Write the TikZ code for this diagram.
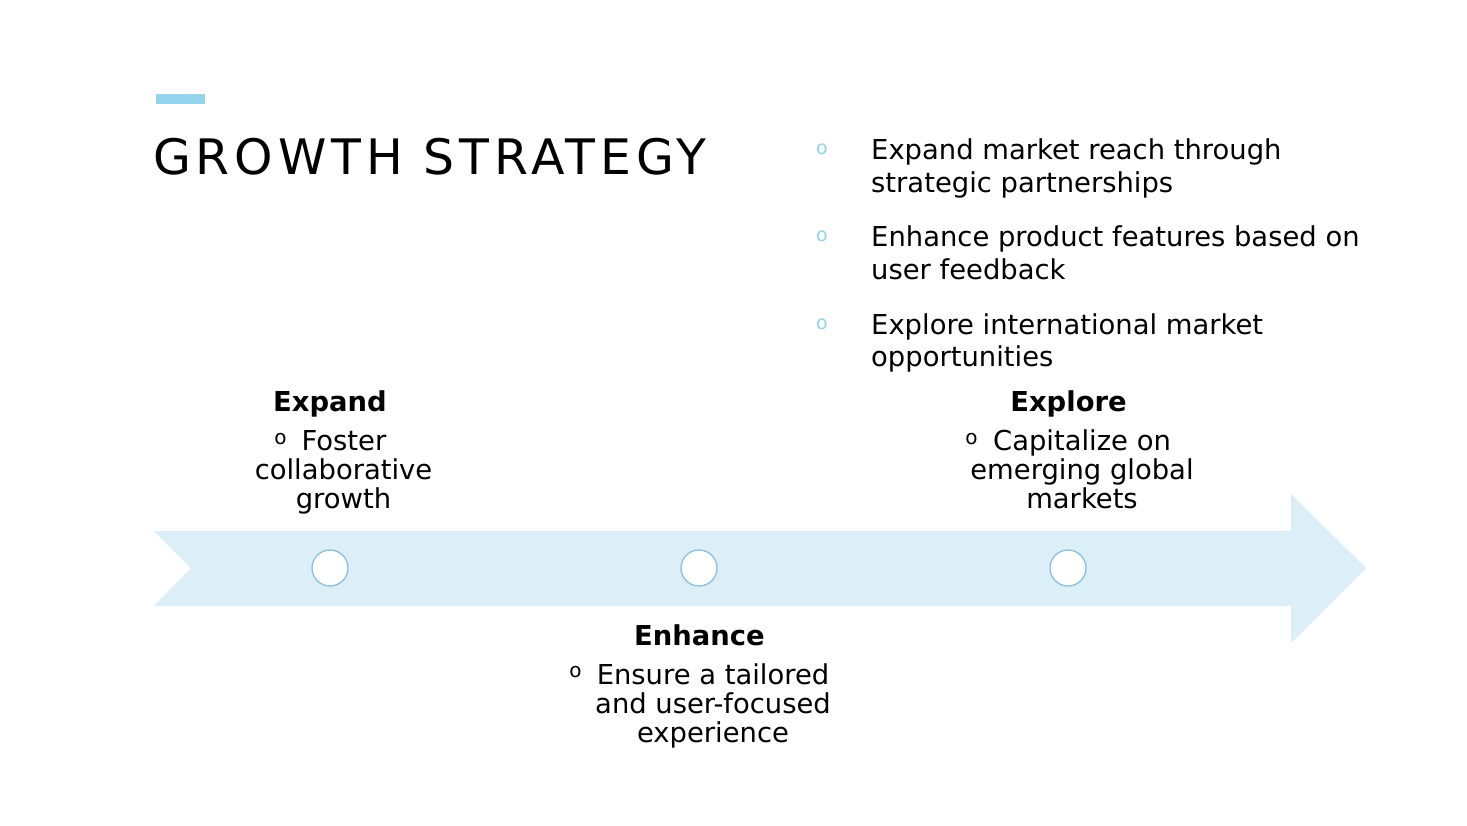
\documentclass[tikz,border=0pt]{standalone}
\usepackage{fontspec}
\setmainfont{DejaVu Sans}
\newfontfamily\titlefont[LetterSpace=10]{DejaVu Sans}
\definecolor{arrowfill}{RGB}{220,238,248}
\definecolor{ringcol}{RGB}{137,192,222}
\definecolor{accent}{RGB}{148,212,236}
\begin{document}
\begin{tikzpicture}[x=1pt,y=-1pt,
  body/.style={inner sep=0pt,font=\fontsize{27.4}{30}\selectfont},
  head/.style={inner sep=0pt,font=\fontsize{27.4}{30}\selectfont\bfseries},
  dotbul/.style={inner sep=0pt,font=\fontsize{20}{22}\selectfont},
  bluebul/.style={inner sep=0pt,text=accent,font=\fontsize{19}{22}\selectfont},
  ring/.style={circle,draw=ringcol,line width=1.3pt,fill=white,minimum size=36pt,inner sep=0pt}]
\useasboundingbox (0,0) rectangle (1467,825);
\fill[white] (0,0) rectangle (1467,825);
% title bar
\fill[accent] (156,94) rectangle (205,104);
\node[inner sep=0pt,anchor=base west,font=\fontsize{48.9}{55}\titlefont] (title) at (153,174) {GROWTH STRATEGY};
% top-right bullets
\node[bluebul,anchor=base] (b1) at (822,154) {o};
\node[body,anchor=base west] (t1a) at (871,159) {Expand market reach through};
\node[body,anchor=base west] (t1b) at (871,192) {strategic partnerships};
\node[bluebul,anchor=base] (b2) at (822,241) {o};
\node[body,anchor=base west] (t2a) at (871,246) {Enhance product features based on};
\node[body,anchor=base west] (t2b) at (871,279) {user feedback};
\node[bluebul,anchor=base] (b3) at (822,329) {o};
\node[body,anchor=base west] (t3a) at (871,334) {Explore international market};
\node[body,anchor=base west] (t3b) at (871,366) {opportunities};
% arrow
\fill[arrowfill] (154,531) -- (1291,531) -- (1291,494) -- (1366,568) -- (1291,643) -- (1291,606) -- (154,606) -- (191,568) -- cycle;
% rings
\node[ring] (c1) at (330,568) {};
\node[ring] (c2) at (699,568) {};
\node[ring] (c3) at (1068,568) {};
% Expand
\node[head,anchor=base] (h1) at (330,411) {Expand};
\node[dotbul,anchor=base] (d1) at (280.5,444) {o};
\node[body,anchor=base] (e1) at (344,450) {Foster};
\node[body,anchor=base] (e2) at (343.5,479) {collaborative};
\node[body,anchor=base] (e3) at (343.5,508) {growth};
% Enhance
\node[head,anchor=base] (h2) at (699.5,645) {Enhance};
\node[dotbul,anchor=base] (d2) at (575.5,677) {o};
\node[body,anchor=base] (n1) at (713,684) {Ensure a tailored};
\node[body,anchor=base] (n2) at (713,713) {and user-focused};
\node[body,anchor=base] (n3) at (713,742) {experience};
% Explore
\node[head,anchor=base] (h3) at (1068.5,411) {Explore};
\node[dotbul,anchor=base] (d3) at (971.5,444) {o};
\node[body,anchor=base] (x1) at (1082,450) {Capitalize on};
\node[body,anchor=base] (x2) at (1082,479) {emerging global};
\node[body,anchor=base] (x3) at (1082,508) {markets};
\end{tikzpicture}
\end{document}
